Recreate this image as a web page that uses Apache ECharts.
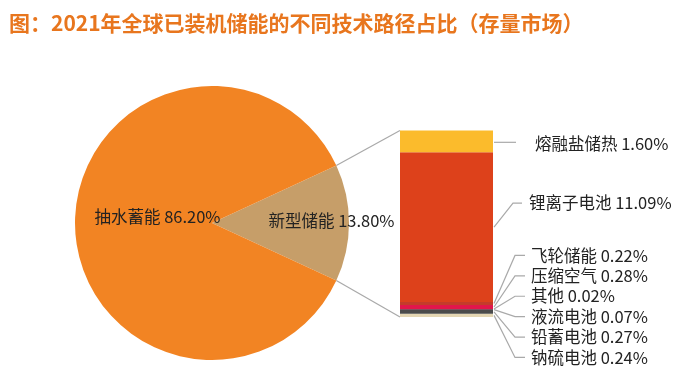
<!DOCTYPE html>
<html>
<head>
<meta charset="utf-8">
<script src="https://cdn.jsdelivr.net/npm/echarts@6/dist/echarts.min.js"></script>
<style>
html,body{margin:0;padding:0;background:#fff;}
#c{width:692px;height:380px;}
</style>
</head>
<body>
<div id="c"></div>
<script>
// ---- data ----
const titleText = '图：2021年全球已装机储能的不同技术路径占比（存量市场）';
const pieNames = ['新型储能', '抽水蓄能'];
const pieValues = [13.80, 86.20];
// stacked bar, bottom -> top
const barNames = ['钠硫电池', '铅蓄电池', '液流电池', '其他', '压缩空气', '飞轮储能', '锂离子电池', '熔融盐储热'];
const barValues = [0.24, 0.27, 0.07, 0.02, 0.28, 0.22, 11.09, 1.60];

// ---- styles / layout ----
const pieColors = ['#C69E69', '#F28423'];
const barColors = ['#E4D6B3', '#4B4B4B', '#5A2C3B', '#8B1E3F', '#E2164B', '#C43C2A', '#DD411B', '#FBBB2C'];
const FONT = '"Noto Sans CJK SC", "Noto Sans", sans-serif';
const PIE_C = [212, 223], PIE_R = 137;
const GRID = {left: 400, top: 130.5, width: 93, height: 186.5};
const LABEL_FS = 16.5;

const chart = echarts.init(document.getElementById('c'), null, {renderer: 'canvas'});
const total = barValues.reduce((a, b) => a + b, 0);
const halfAngle = pieValues[0] / 100 * 360 / 2;

const pieLabelOffsets = [[48, -2], [17, -6]];

const series = [{
  type: 'pie',
  center: PIE_C,
  radius: PIE_R,
  startAngle: halfAngle,
  clockwise: true,
  animation: false,
  silent: true,
  label: {
    position: 'inside',
    color: '#222',
    fontSize: LABEL_FS,
    fontFamily: FONT,
    formatter: p => p.name + ' ' + p.value.toFixed(2) + '%'
  },
  labelLine: {show: false},
  data: pieNames.map((n, i) => ({
    name: n, value: pieValues[i],
    itemStyle: {color: pieColors[i]},
    label: {offset: pieLabelOffsets[i]}
  }))
}];
barNames.forEach((n, i) => {
  series.push({
    type: 'bar', name: n, stack: 's', barWidth: '100%',
    animation: false, silent: true,
    xAxisIndex: 0, yAxisIndex: 0,
    itemStyle: {color: barColors[i]},
    data: [barValues[i]]
  });
});

chart.setOption({
  backgroundColor: '#fff',
  title: {
    text: titleText, left: 4, top: 8,
    textStyle: {color: '#E8761E', fontSize: 21, fontWeight: 'bold', fontFamily: FONT}
  },
  grid: GRID,
  xAxis: {type: 'category', data: ['新型储能'], show: false},
  yAxis: {type: 'value', min: 0, max: total, show: false},
  series: series
});

// ---- connectors and labels computed from data ----
function build() {
  const g = [];
  const xc = chart.convertToPixel({xAxisIndex: 0}, '新型储能');
  const barL = xc - GRID.width / 2, barR = xc + GRID.width / 2;
  const yTop = chart.convertToPixel({yAxisIndex: 0}, total);
  const yBot = chart.convertToPixel({yAxisIndex: 0}, 0);
  const rad = halfAngle * Math.PI / 180;
  const pTop = [PIE_C[0] + PIE_R * Math.cos(rad), PIE_C[1] - PIE_R * Math.sin(rad)];
  const pBot = [PIE_C[0] + PIE_R * Math.cos(rad), PIE_C[1] + PIE_R * Math.sin(rad)];
  const lineStyle = {stroke: '#A9A9A9', lineWidth: 1.2, fill: null};
  g.push({type: 'polyline', shape: {points: [pTop, [barL, yTop]]}, style: lineStyle, silent: true});
  g.push({type: 'polyline', shape: {points: [pBot, [barL, yBot]]}, style: lineStyle, silent: true});

  // segment centers
  let cum = 0;
  const centers = barValues.map(v => {
    const c = chart.convertToPixel({yAxisIndex: 0}, cum + v / 2);
    cum += v;
    return c;
  });
  // small segments (index 0..5) spread evenly around their mean, top -> bottom
  const smallIdx = [5, 4, 3, 2, 1, 0];
  const mean = smallIdx.reduce((a, i) => a + centers[i], 0) / smallIdx.length - 3;
  const step = 20.4;
  const labelY = {};
  smallIdx.forEach((idx, k) => { labelY[idx] = mean + (k - (smallIdx.length - 1) / 2) * step; });
  labelY[7] = centers[7] + 2;
  labelY[6] = centers[6] - 24;

  const fmt = i => barNames[i] + ' ' + barValues[i].toFixed(2) + '%';
  barNames.forEach((n, i) => {
    const y0 = centers[i], y1 = labelY[i];
    let pts, tx;
    if (i === 7) {
      pts = [[barR + 1, y1 - 1], [barR + 23, y1 - 1]];
      tx = barR + 42;
    } else if (i === 6) {
      pts = [[barR + 1, y0], [barR + 20, y1], [barR + 29, y1]];
      tx = barR + 36;
    } else {
      pts = [[barR + 1, y0], [barR + 22, y1], [barR + 32, y1]];
      tx = barR + 38;
    }
    g.push({type: 'polyline', shape: {points: pts}, style: lineStyle, silent: true});
    g.push({
      type: 'text', x: tx, y: y1, silent: true,
      style: {text: fmt(i), fill: '#222', fontSize: LABEL_FS, fontFamily: FONT,
              textAlign: 'left', textVerticalAlign: 'middle'}
    });
  });
  chart.setOption({graphic: {elements: g}});
}
build();
</script>
</body>
</html>
